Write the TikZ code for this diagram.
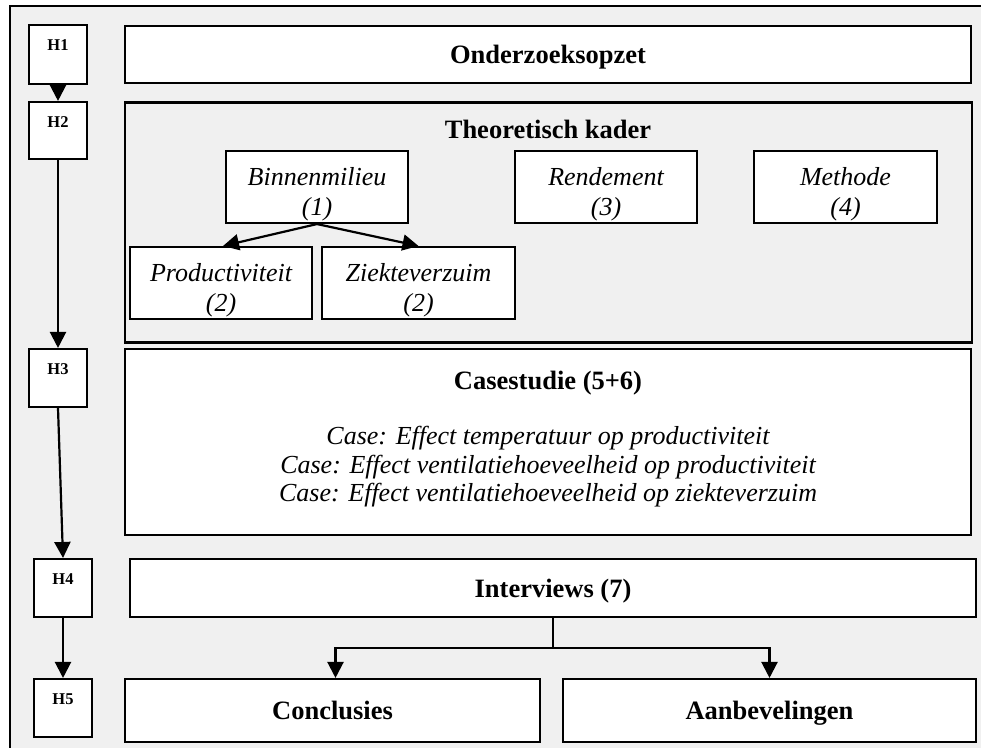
\documentclass[tikz,border=0pt]{standalone}
\usepackage{fontspec}
\setmainfont{Liberation Serif}
\usetikzlibrary{arrows.meta,positioning}
\definecolor{panel}{RGB}{240,240,240}
\begin{document}
\begin{tikzpicture}[x=1pt,y=-1pt,
  frame/.style={draw=black,line width=2.1pt,rectangle,inner sep=0pt,fill=white},
  hbox/.style={frame,minimum width=58pt,minimum height=58pt},
  topic/.style={frame,minimum width=182pt,minimum height=72pt},
  topictext/.style={align=center,inner sep=0pt,
    font=\fontsize{26}{30}\selectfont\itshape},
  htext/.style={font=\fontsize{16.5}{18}\selectfont\bfseries,inner sep=0pt},
  title/.style={font=\fontsize{26.5}{30}\selectfont\bfseries,inner sep=0pt,
    text height=21pt,text depth=3pt},
  caseline/.style={font=\fontsize{26}{30}\selectfont\itshape,inner sep=0pt},
  arr/.style={line width=2.2pt,-{Triangle[length=16pt,width=16pt]}},
  link/.style={line width=2.2pt}]
\useasboundingbox (0,0) rectangle (981,747);
% background panel
\fill[panel] (10,6) rectangle (1000,760);
\draw[line width=1.3pt] (10,760) -- (10,6) -- (1000,6);

% chapter markers
\node[hbox,minimum height=59pt] (h1) at (58,54.5) {};
\node[hbox,minimum height=57pt] (h2) at (58,130.5) {};
\node[hbox] (h3) at (58,378) {};
\node[hbox] (h4) at (63,588) {};
\node[hbox] (h5) at (63,708) {};
\node[htext] (h1t) at ([yshift=-21pt]h1.north) {H1};
\node[htext] (h2t) at ([yshift=-21pt]h2.north) {H2};
\node[htext] (h3t) at ([yshift=-21pt]h3.north) {H3};
\node[htext] (h4t) at ([yshift=-21pt]h4.north) {H4};
\node[htext] (h5t) at ([yshift=-21pt]h5.north) {H5};

% research design
\node[frame,minimum width=846pt,minimum height=57pt,title] (onder) at (548,54.5) {Onderzoeksopzet};

% theoretical framework
\node[frame,fill=panel,minimum width=847pt,minimum height=240pt] (theo) at (548.5,222.5) {};
\node[title] (theot) at (548,129) {Theoretisch kader};
\node[topic] (binnen) at (317,187) {};
\node[topic] (rend) at (606,187) {};
\node[topic,minimum width=183pt] (meth) at (845.5,187) {};
\node[topic] (prod) at (221,283) {};
\node[topic,minimum width=193pt] (ziek) at (418.5,283) {};
\node[topictext] (binnenT) at ([yshift=-7pt]binnen.center) {Binnenmilieu\\(1)};
\node[topictext] (rendT) at ([yshift=-7pt]rend.center) {Rendement\\(3)};
\node[topictext] (methT) at ([yshift=-7pt]meth.center) {Methode\\(4)};
\node[topictext] (prodT) at ([yshift=-7pt]prod.center) {Productiviteit\\(2)};
\node[topictext] (ziekT) at ([yshift=-7pt]ziek.center) {Ziekteverzuim\\(2)};

% case study
\node[frame,minimum width=846pt,minimum height=186pt] (case) at (548,442) {};
\node[title] (caset) at (548,380) {Casestudie (5+6)};
\node[caseline] (c1) at (548,438.5) {Case: Effect temperatuur op productiviteit};
\node[caseline] (c2) at (548,467) {Case: Effect ventilatiehoeveelheid op productiviteit};
\node[caseline] (c3) at (548,495.5) {Case: Effect ventilatiehoeveelheid op ziekteverzuim};

% interviews and outcomes
\node[frame,minimum width=846pt,minimum height=58pt,title] (inter) at (553,588) {Interviews (7)};
\node[frame,minimum width=415pt,minimum height=63pt,title] (concl) at (332.5,710.5) {Conclusies};
\node[frame,minimum width=413pt,minimum height=63pt,title] (aanb) at (769.5,710.5) {Aanbevelingen};
\coordinate (split) at (553,648);

% connectors
\draw[arr] (h1.south) -- (h2.north);
\draw[arr] (h2.south) -- (h3.north);
\draw[arr] (h3.south) -- (h4.north);
\draw[arr] (h4.south) -- (h5.north);
\draw[arr] (binnen.south) -- ([xshift=2pt]prod.north);
\draw[arr] (binnen.south) -- (ziek.north);
\draw[link] (inter.south) -- (split);
\draw[arr] (split) -| ([xshift=3pt]concl.north);
\draw[arr] (split) -| (aanb.north);
\end{tikzpicture}
\end{document}
